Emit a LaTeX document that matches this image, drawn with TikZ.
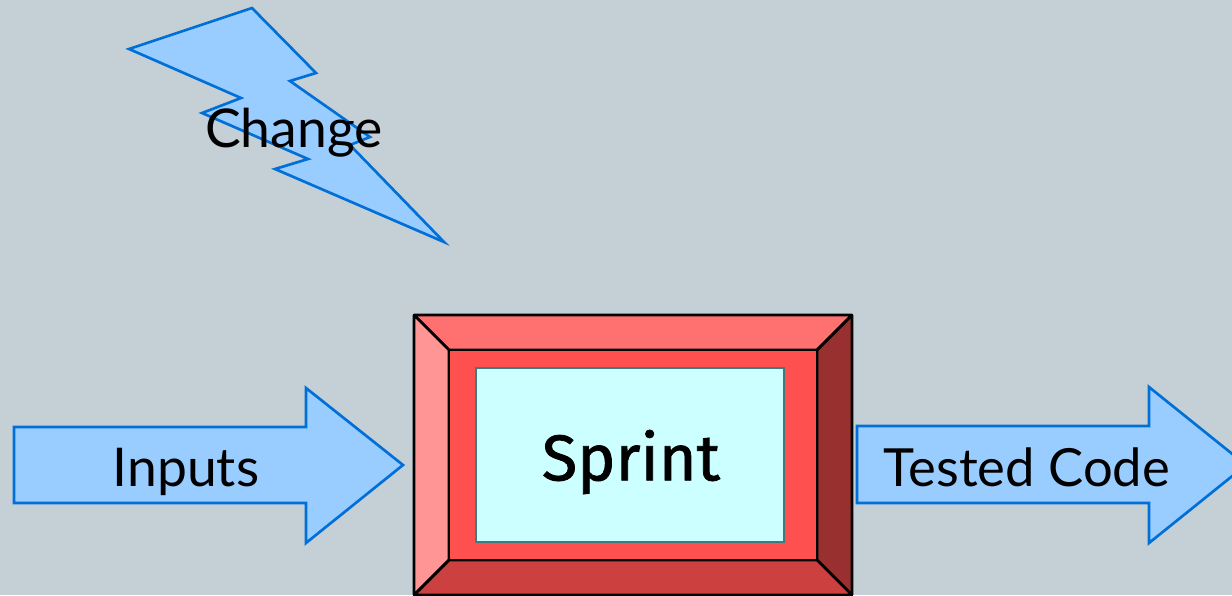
\documentclass[tikz,border=0pt]{standalone}
\usepackage{fontspec}
\setmainfont{Lato}
\newfontfamily\sprintfont[FakeBold=1.2]{Fira Sans}
\definecolor{slide}{HTML}{C5D0D6}
\definecolor{bluefill}{HTML}{99CCFF}
\definecolor{blueline}{HTML}{0070D8}
\definecolor{framemid}{HTML}{FF5050}
\definecolor{frametop}{HTML}{FF7171}
\definecolor{frameleft}{HTML}{FF9595}
\definecolor{frameright}{HTML}{993030}
\definecolor{framebottom}{HTML}{CC4040}
\definecolor{screenfill}{HTML}{CCFFFF}
\definecolor{screenline}{HTML}{3F7A7F}
\tikzset{
  bluearrow/.style={draw=blueline, fill=bluefill, line width=1.9pt, line join=miter},
  bevel/.style={draw=black, line width=2pt, line join=bevel},
  label/.style={font=\fontsize{38}{38}\selectfont, inner sep=0pt}
}
\begin{document}
\begin{tikzpicture}[x=0.025cm, y=-0.025cm]
      \useasboundingbox (0,0) rectangle (1232,595);
      \clip (0,0) rectangle (1232,595);
      \fill[slide] (0,0) rectangle (1232,595);
      \draw[bluearrow, miter limit=20] (252,8)--(316,73)--(290,81)--(370,137)--(350,145)--(444,242)--(275,169)--(308,159)--(202,113)--(241,98)--(129,49)--cycle;
      \node[label] (change) at (294,133) {Change};
      \draw[bluearrow] (14,427)--(306,427)--(306,388)--(403,465)--(306,543)--(306,503)--(14,503)--cycle;
      \node[label] (inputs) at (186,472) {Inputs};
      \draw[bluearrow] (857,426)--(1149,426)--(1149,387)--(1246,465)--(1149,543)--(1149,503)--(857,503)--cycle;
      \node[label, font=\fontsize{37.4}{38}\selectfont] (tested) at (1027,467) {Tested Code};
      \draw[bevel, fill=frametop] (414,315)--(852,315)--(817,350)--(449,350)--cycle;
      \draw[bevel, fill=frameleft] (414,315)--(449,350)--(449,560)--(414,595)--cycle;
      \draw[bevel, fill=frameright] (852,315)--(817,350)--(817,560)--(852,595)--cycle;
      \draw[bevel, fill=framebottom] (414,595)--(449,560)--(817,560)--(852,595)--cycle;
      \draw[bevel, fill=framemid] (449,350) rectangle (817,560);
      \draw[draw=black, line width=2pt, line join=miter] (414,315) rectangle (852,595);
      \draw[draw=screenline, fill=screenfill, line width=1.9pt] (476,368) rectangle (784,542);
      \node[font=\sprintfont\fontsize{46}{46}\selectfont, inner sep=0pt] (sprint) at (631,462) {Sprint};
    \end{tikzpicture}
\end{document}
